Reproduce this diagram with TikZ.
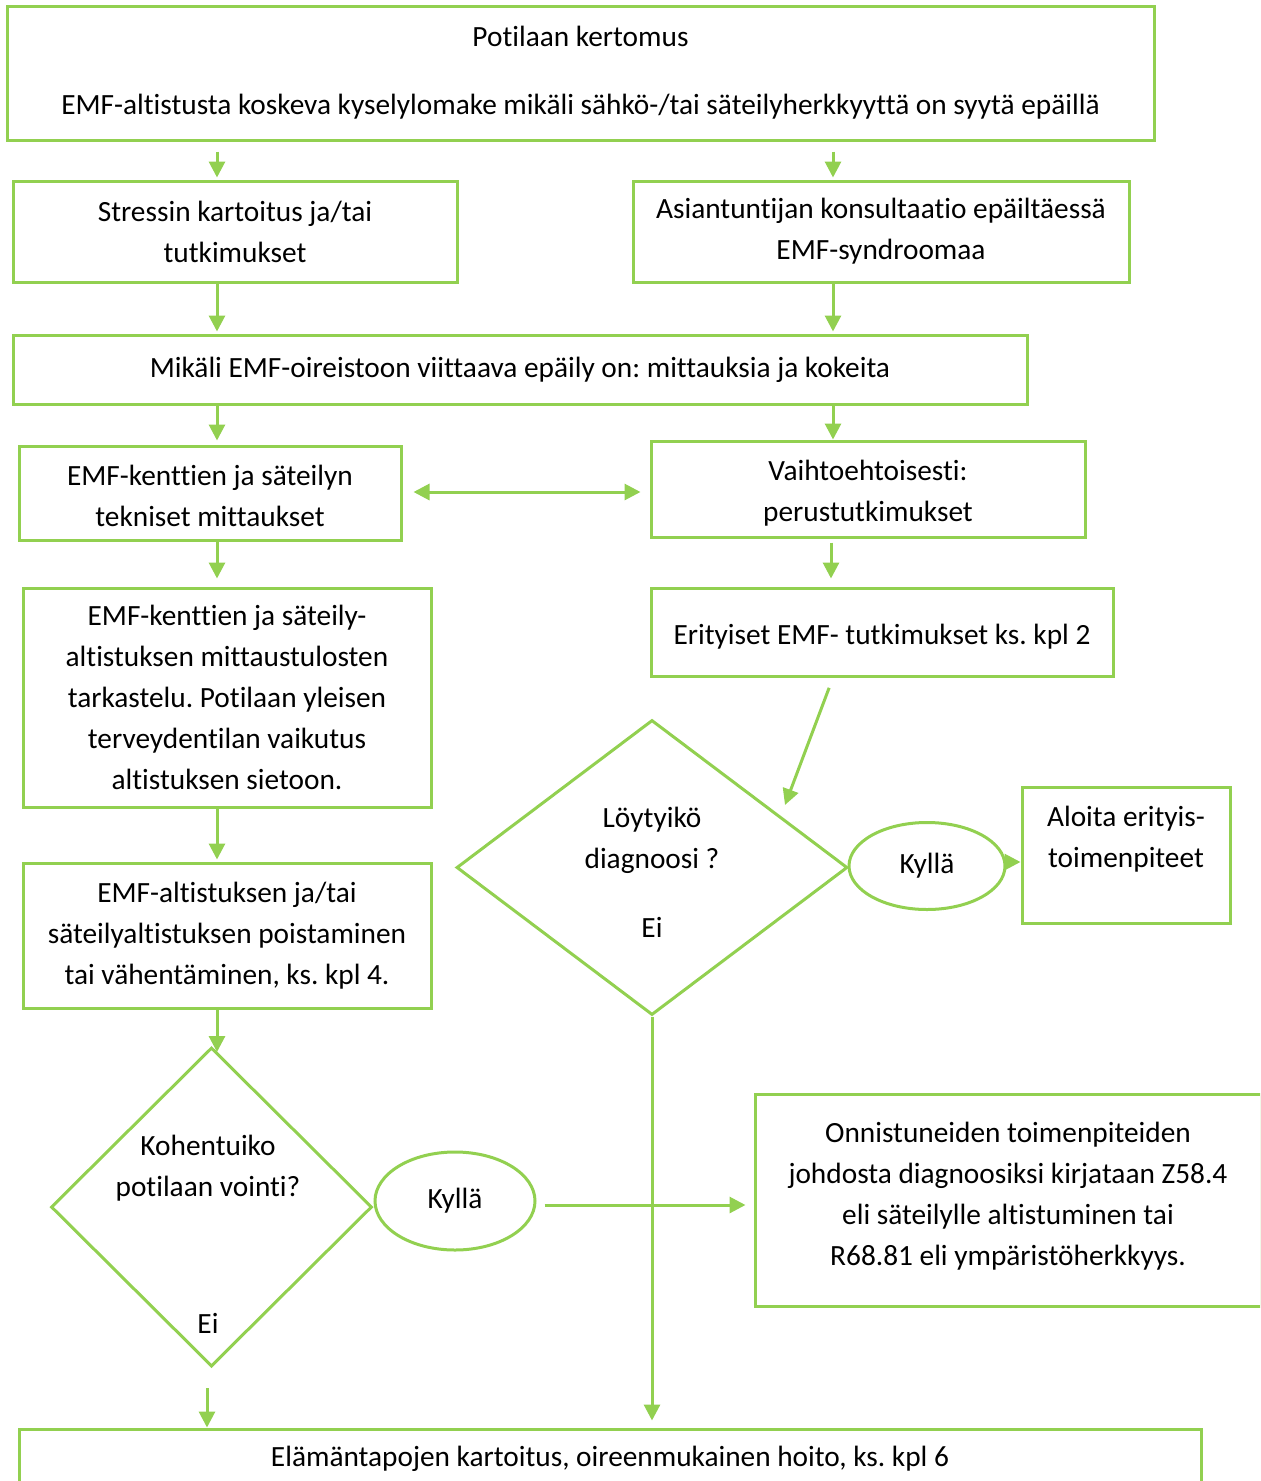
\documentclass[tikz,border=0pt]{standalone}
\usepackage{fontspec}
\setmainfont{Carlito}[Ligatures={NoCommon,NoContextual}]
\usetikzlibrary{shapes.geometric,arrows.meta}
\definecolor{leafgreen}{RGB}{146,208,80}
\newlength\pxl
\setlength\pxl{0.75pt}
\frenchspacing
\begin{document}
\begin{tikzpicture}[
				x=0.75pt, y=-0.75pt,
				font=\fontsize{22}{30.75}\selectfont,
				>={Triangle[length=12pt,width=12pt]},
				box/.style={rectangle, draw=leafgreen, line width=2.25pt, inner sep=0pt, align=center},
				choice/.style={diamond, draw=leafgreen, line width=2.25pt, inner sep=0pt},
				answer/.style={ellipse, draw=leafgreen, line width=2.25pt, inner sep=0pt},
				txt/.style={align=center, inner sep=0pt},
				arr/.style={draw=leafgreen, line width=2.25pt, ->}
				]
			\useasboundingbox (0,0) rectangle (1260,1481);
			\clip (0,0) rectangle (1260,1481);
			% columns and rows of the connectors
			\coordinate (colL) at (217,0);
			\coordinate (colR) at (833,0);
			\coordinate (colM) at (831,0);
			\coordinate (colE) at (207,0);
			\coordinate (rowA) at (0,492);
			\coordinate (rowB) at (0,862);
			\coordinate (rowC) at (0,1205);
			\coordinate (foundIn) at (785,805);
			% boxes
			\node [box, minimum width=1147\pxl, minimum height=134\pxl] (story) at (580.5,73)
				{Potilaan kertomus\\[27\pxl]EMF-altistusta koskeva kyselylomake mikäli sähkö-/tai säteilyherkkyyttä on syytä epäillä};
			\node [box, minimum width=444\pxl, minimum height=101\pxl] (stress) at (235,231.5)
				{Stressin kartoitus ja/tai\\tutkimukset};
			\node [box, minimum width=496\pxl, minimum height=101\pxl] (expert) at (881,231.5)
				{Asiantuntijan konsultaatio epäiltäessä\\EMF-syndroomaa};
			\node [box, minimum width=1014\pxl, minimum height=69\pxl] (suspect) at (520,369.5)
				{Mikäli EMF-oireistoon viittaava epäily on: mittauksia ja kokeita};
			\node [box, minimum width=382\pxl, minimum height=94\pxl] (fields) at (210,493) {};
			\node [txt] (fieldsText) at (210,496) {EMF-kenttien ja säteilyn\\tekniset mittaukset};
			\node [box, minimum width=434\pxl, minimum height=96\pxl] (basic) at (868,489) {};
			\node [txt] (basicText) at (868,493) {Vaihtoehtoisesti:\\perustutkimukset};
			\node [box, minimum width=408\pxl, minimum height=219\pxl] (review) at (227,697.5)
				{EMF-kenttien ja säteily-\\altistuksen mittaustulosten\\tarkastelu. Potilaan yleisen\\terveydentilan vaikutus\\altistuksen sietoon.};
			\node [box, minimum width=462\pxl, minimum height=88\pxl] (special) at (882,632) {};
			\node [txt] (specialText) at (882,637) {Erityiset EMF- tutkimukset ks. kpl 2};
			\node [choice, minimum width=391\pxl, minimum height=295\pxl] (found) at (652,867.5) {};
			\node [txt] (foundQ) at (652,840) {Löytyikö\\diagnoosi ?};
			\node [txt] (foundNo) at (652,927) {Ei};
			\node [answer, minimum width=156\pxl, minimum height=87\pxl] (foundYes) at (927,866) {Kyllä};
			\node [box, minimum width=208\pxl, minimum height=136\pxl] (begin) at (1126,855) {};
			\node [txt] (beginText) at (1126,839) {Aloita erityis-\\toimenpiteet};
			\node [box, minimum width=408\pxl, minimum height=145\pxl] (remove) at (227,935.5)
				{EMF-altistuksen ja/tai\\säteilyaltistuksen poistaminen\\tai vähentäminen, ks. kpl 4.};
			\node [choice, minimum width=321\pxl, minimum height=319\pxl] (improve) at (211.5,1207) {};
			\node [txt] (improveQ) at (208,1168) {Kohentuiko\\potilaan vointi?};
			\node [txt] (improveNo) at (208,1323) {Ei};
			\node [answer, minimum width=160\pxl, minimum height=98\pxl] (improveYes) at (455,1201) {Kyllä};
			\node [box, minimum width=506\pxl, minimum height=212\pxl] (success) at (1008,1200) {};
			\node [txt] (successText) at (1008,1196)
				{Onnistuneiden toimenpiteiden\\johdosta diagnoosiksi kirjataan Z58.4\\eli säteilylle altistuminen tai\\R68.81 eli ympäristöherkkyys.};
			\node [box, minimum width=1182\pxl, minimum height=60\pxl] (lifestyle) at (610,1459)
				{Elämäntapojen kartoitus, oireenmukainen hoito, ks. kpl 6};
			% connectors
			\draw [arr, shorten <=10\pxl, shorten >=2\pxl] (story.south -| colL) -- (stress.north -| colL);
			\draw [arr, shorten <=10\pxl, shorten >=2\pxl] (story.south -| colR) -- (expert.north -| colR);
			\draw [arr, shorten >=2\pxl] (stress.south -| colL) -- (suspect.north -| colL);
			\draw [arr, shorten >=2\pxl] (expert.south -| colR) -- (suspect.north -| colR);
			\draw [arr, shorten >=4\pxl] (suspect.south -| colL) -- (fields.north -| colL);
			\draw [arr] (suspect.south -| colR) -- (basic.north -| colR);
			\draw [arr, <->, shorten <=11\pxl, shorten >=9\pxl] (fields.east |- rowA) -- (basic.west |- rowA);
			\draw [arr, shorten >=8\pxl] (fields.south -| colL) -- (review.north -| colL);
			\draw [arr, shorten <=4\pxl, shorten >=8\pxl] (basic.south -| colM) -- (special.north -| colM);
			\draw [arr, shorten <=11\pxl] (special.south -| colR) -- (foundIn);
			\draw [arr] (foundYes.east |- rowB) -- (begin.west |- rowB);
			\draw [arr, shorten >=2\pxl] (review.south -| colL) -- (remove.north -| colL);
			\draw [arr, shorten >=-6\pxl] (remove.south -| colL) -- (improve.north -| colL);
			\draw [arr, shorten <=8\pxl, shorten >=8\pxl] (improveYes.east |- rowC) -- (success.west |- rowC);
			\draw [arr, shorten >=7\pxl] (found.south) -- (lifestyle.north -| found.south);
			\draw [arr, shorten <=20\pxl] (improve.south -| colE) -- (lifestyle.north -| colE);
			\end{tikzpicture}
\end{document}
